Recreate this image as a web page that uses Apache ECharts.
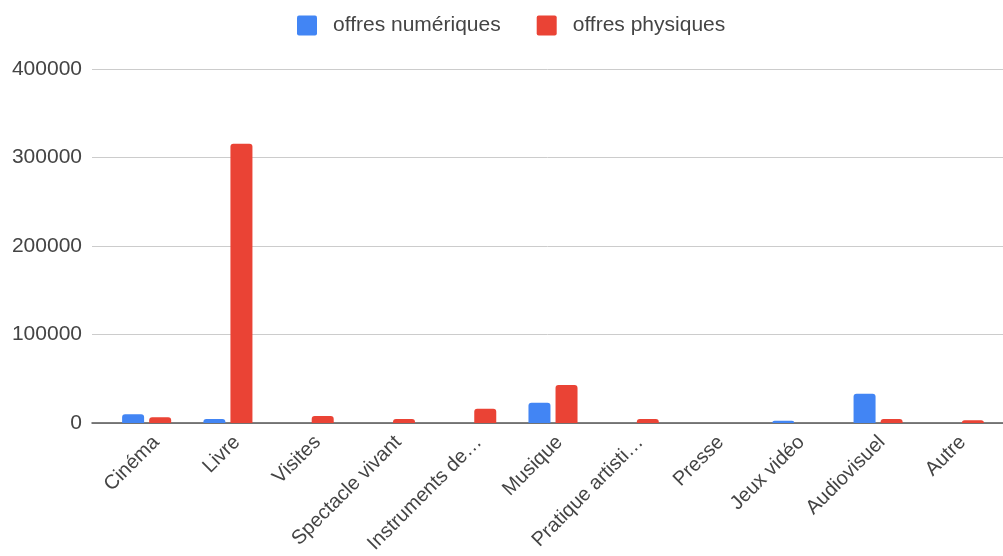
<!DOCTYPE html>
<html><head><meta charset="utf-8">
<script src="https://cdn.jsdelivr.net/npm/echarts@6/dist/echarts.min.js"></script>
<style>html,body{margin:0;padding:0;background:#fff}#c{width:1003px;height:556px}</style>
</head><body><div id="c"></div>
<script>
const categories = ['Cinéma','Livre','Visites','Spectacle vivant','Instruments de…','Musique','Pratique artisti…','Presse','Jeux vidéo','Audiovisuel','Autre'];
const numeriques = [10000, 4500, 0, 0, 0, 23000, 0, 0, 2500, 33000, 0];
const physiques = [6500, 315500, 8000, 4500, 16000, 43000, 4500, 0, 0, 4500, 3000];
const yTicks = [0, 100000, 200000, 300000, 400000];

const chart = echarts.init(document.getElementById('c'));
const font = '"Liberation Sans", Arial, sans-serif';
const hiddenY = { type: 'value', min: yTicks[0], max: yTicks[yTicks.length - 1], interval: 100000,
  axisLabel: { show: false }, splitLine: { show: false }, axisLine: { show: false }, axisTick: { show: false } };
chart.setOption({
  animation: false,
  legend: {
    top: 10, left: 292, itemWidth: 20, itemHeight: 20, itemGap: 36,
    icon: 'path://M2,0H18A2,2 0 0 1 20,2V18A2,2 0 0 1 18,20H2A2,2 0 0 1 0,18V2A2,2 0 0 1 2,0Z',
    textStyle: { fontFamily: font, fontSize: 21, color: '#444', padding: [0, 0, 0, 11] },
    data: ['offres numériques', 'offres physiques']
  },
  grid: [
    { left: 92, right: 0, top: 69, bottom: 133 },
    { left: 106, right: 3, top: 69, bottom: 133 },
    { left: 116, right: -7, top: 69, bottom: 133 }
  ],
  xAxis: [
    { gridIndex: 0, type: 'category', data: categories, axisLabel: { show: false }, axisTick: { show: false },
      axisLine: { show: true, lineStyle: { color: '#555', width: 1.5 } } },
    { gridIndex: 1, type: 'category', data: categories,
      axisLine: { show: false }, axisTick: { show: false }, axisLabel: { show: false } },
    { gridIndex: 2, type: 'category', data: categories,
      axisLine: { show: false }, axisTick: { show: false },
      axisLabel: { rotate: 45, interval: 0, margin: 41, fontFamily: font, fontSize: 20, color: '#444' } }
  ],
  yAxis: [
    { gridIndex: 0, type: 'value', min: yTicks[0], max: yTicks[yTicks.length - 1], interval: 100000,
      axisLabel: { fontFamily: font, fontSize: 21, color: '#444', margin: 10, formatter: v => String(v) },
      splitLine: { lineStyle: { color: '#ccc' } }, axisLine: { show: false }, axisTick: { show: false } },
    Object.assign({ gridIndex: 1 }, hiddenY),
    Object.assign({ gridIndex: 2 }, hiddenY)
  ],
  series: [
    { name: 'offres numériques', type: 'bar', xAxisIndex: 1, yAxisIndex: 1, data: numeriques,
      barWidth: 22, barGap: '23%', itemStyle: { color: '#4285F4', borderRadius: [3, 3, 0, 0] } },
    { name: 'offres physiques', type: 'bar', xAxisIndex: 1, yAxisIndex: 1, data: physiques,
      barWidth: 22, barGap: '23%', itemStyle: { color: '#EA4335', borderRadius: [3, 3, 0, 0] } }
  ]
});
</script></body></html>
